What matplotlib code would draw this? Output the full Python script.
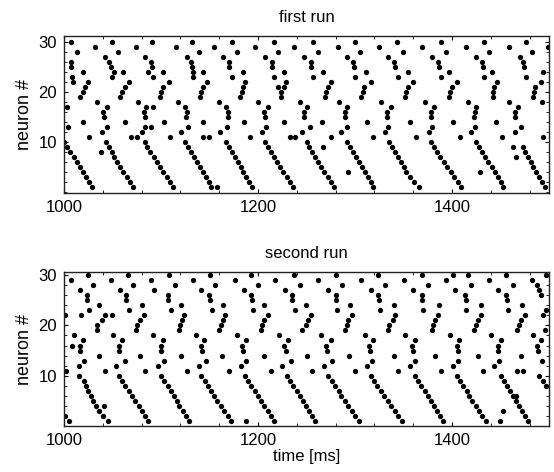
import matplotlib
matplotlib.use("Agg")
import matplotlib.pyplot as plt
from matplotlib.ticker import MultipleLocator

plt.rcParams['font.family'] = ['Liberation Sans', 'DejaVu Sans']

# ---- first run ----
# diagonal spike waves, neuron 10 down to 1, one row per wave
run1_wave_t = [
    [1000, 1003, 1006, 1010, 1013, 1016, 1020, 1023, 1026, 1029],
    [1043, 1046, 1049, 1052, 1055, 1058, 1061, 1065, 1068, 1071],
    [1083, 1086, 1089, 1093, 1096, 1099, 1102, 1106, 1109, 1112],
    [1125, 1128, 1131, 1134, 1137, 1140, 1143, 1146, 1149, 1152],
    [1167, 1170, 1173, 1176, 1179, 1182, 1185, 1188, 1191, 1194],
    [1207, 1210, 1213, 1217, 1220, 1223, 1226, 1230, 1233, 1236],
    [1250, 1253, 1256, 1259, 1262, 1265, 1268, 1272, 1275, 1278],
    [1292, 1295, 1298, 1301, 1304, 1307, 1310, 1313, 1316, 1319],
    [1335, 1338, 1341, 1344, 1347, 1350, 1353, 1357, 1361, 1366],
    [1378, 1381, 1385, 1388, 1392, 1395, 1399, 1402, 1406, 1409],
    [1425, 1428, 1431, 1434, 1437, 1441, 1444, 1447, 1450, 1453],
    [None, 1473, 1475, 1478, 1481, 1484, 1487, 1490, 1493, 1496],
]
wave_neurons = [10, 9, 8, 7, 6, 5, 4, 3, 2, 1]

run1_t = [
    1003, 1004, 1007, 1007, 1007, 1008, 1009, 1013, 1017, 1020, 1022, 1025, 1020, 1020, 1026, 1032,
    1038, 1034, 1039, 1040, 1041, 1044, 1044, 1042, 1046, 1048, 1050, 1049, 1052, 1056, 1061, 1063,
    1058, 1060, 1063, 1067, 1069, 1074, 1075,
    1076, 1080, 1083, 1082, 1083, 1085, 1092, 1084, 1090, 1091, 1091, 1087, 1092, 1090, 1103, 1099,
    1100, 1102, 1108, 1102, 1109, 1115,
    1118, 1121, 1125, 1127, 1126, 1128, 1127, 1132, 1131, 1132, 1133, 1133, 1139, 1143, 1140, 1141,
    1143, 1147, 1143, 1143, 1149, 1155, 1158,
    1160, 1161, 1164, 1169, 1169, 1167, 1168, 1170, 1170, 1173, 1173, 1178, 1185, 1181, 1183, 1185,
    1187, 1186, 1192, 1197,
    1200, 1204, 1206, 1207, 1210, 1208, 1207, 1214, 1214, 1216, 1216, 1221, 1227, 1224, 1224, 1221,
    1227, 1229, 1227, 1233, 1238, 1237,
    1245, 1243, 1247, 1247, 1251, 1254, 1247, 1255, 1255, 1257, 1257, 1262, 1267, 1269, 1270, 1272,
    1275, 1267, 1275, 1266, 1282, 1293,
    1283, 1286, 1290, 1290, 1292, 1292, 1292, 1298, 1299, 1300, 1300, 1305, 1306, 1308, 1309, 1317,
    1311, 1312, 1319, 1325,
    1327, 1331, 1333, 1333, 1337, 1334, 1334, 1340, 1341, 1343, 1344, 1349, 1355, 1352, 1353, 1355,
    1360, 1357, 1363, 1369,
    1372, 1376, 1378, 1378, 1381, 1379, 1379, 1386, 1387, 1389, 1389, 1394, 1397, 1398, 1400, 1405,
    1397, 1401, 1408, 1414,
    1417, 1420, 1424, 1423, 1425, 1424, 1425, 1431, 1432, 1433, 1433, 1438, 1442, 1442, 1443, 1446,
    1441, 1445, 1452, 1459, 1429,
    1459, 1465, 1465, 1465, 1468, 1471, 1470, 1473, 1474, 1476, 1476, 1482, 1484, 1485, 1486, 1492,
    1493, 1494, 1499, 1494, 1463, 1466,
]
run1_n = [
    17, 13, 30, 26, 25, 23, 22, 28, 19, 20, 21, 22, 24, 14, 11, 29,
    8, 18, 12, 16, 15, 17, 13, 27, 26, 25, 30, 23, 24, 28, 24, 14,
    19, 20, 21, 22, 11, 29, 11,
    18, 12, 13, 16, 15, 17, 17, 27, 26, 25, 30, 24, 23, 13, 14, 19,
    20, 21, 22, 24, 11, 29,
    18, 12, 17, 16, 15, 13, 27, 30, 26, 25, 24, 23, 28, 24, 19, 20,
    21, 22, 14, 11, 11, 29, 1,
    18, 12, 27, 16, 15, 17, 13, 26, 25, 30, 23, 28, 24, 19, 20, 21,
    22, 14, 11, 29,
    18, 12, 16, 15, 17, 13, 27, 26, 25, 30, 23, 28, 24, 19, 20, 21,
    21, 22, 14, 11, 11, 29,
    12, 18, 16, 15, 17, 13, 27, 26, 25, 30, 23, 28, 24, 19, 20, 21,
    22, 9, 11, 14, 29, 4,
    18, 12, 16, 15, 17, 13, 27, 26, 25, 30, 23, 28, 19, 20, 21, 22,
    24, 14, 11, 29,
    18, 12, 16, 15, 17, 13, 27, 26, 25, 30, 23, 28, 24, 19, 20, 21,
    22, 14, 11, 29,
    18, 12, 16, 15, 17, 13, 27, 26, 25, 30, 23, 28, 19, 20, 21, 22,
    24, 14, 11, 29,
    18, 12, 16, 15, 17, 13, 27, 26, 25, 30, 23, 28, 19, 20, 21, 22,
    24, 14, 11, 29, 4,
    18, 12, 16, 15, 17, 13, 27, 26, 25, 30, 23, 28, 19, 20, 21, 22,
    18, 11, 29, 24, 9, 7,
]

# ---- second run ----
run2_wave_t = [
    [1015, 1021, 1023, 1025, 1028, 1030, 1033, 1036, 1040, 1045],
    [1057, 1060, 1063, 1067, 1070, 1073, 1077, 1080, 1083, 1087],
    [1100, 1103, 1107, 1110, 1113, 1116, 1119, 1123, 1126, 1129],
    [1141, 1145, 1148, 1152, 1155, 1158, 1162, 1165, 1169, 1172],
    [1187, 1190, 1193, 1197, 1200, 1203, 1206, 1210, 1213, 1216],
    [1230, 1233, 1236, 1240, 1243, 1246, 1249, 1253, 1256, 1259],
    [1272, 1276, 1279, 1283, 1286, 1290, 1293, 1297, 1300, 1304],
    [1316, 1320, 1323, 1327, 1330, 1334, 1337, 1341, 1344, 1348],
    [1362, 1365, 1368, 1372, 1375, 1378, 1381, 1385, 1388, 1391],
    [1405, 1408, 1411, 1415, 1418, 1421, 1425, 1428, 1431, 1435],
    [1451, 1454, 1457, 1460, 1463, 1466, 1469, 1472, 1475, 1478],
    [1490, 1494, 1497, None, None, None, None, None, None, None],
]

run2_t = [
    1001, 1005, 1001, 1002, 1007, 1010, 1008, 1017, 1017, 1017, 1020, 1015, 1021, 1025, 1024, 1024,
    1026, 1030, 1036, 1034, 1034, 1039, 1042, 1049, 1036, 1042, 1048, 1018, 1041,
    1051, 1054, 1057, 1057, 1060, 1063, 1058, 1064, 1064, 1066, 1067, 1071, 1080, 1074, 1075, 1078,
    1082, 1078, 1083, 1090,
    1092, 1097, 1100, 1100, 1102, 1103, 1093, 1107, 1107, 1108, 1110, 1114, 1121, 1119, 1120, 1122,
    1124, 1121, 1127, 1133,
    1136, 1139, 1141, 1142, 1144, 1146, 1141, 1150, 1151, 1151, 1153, 1156, 1164, 1160, 1162, 1164,
    1166, 1163, 1170, 1176, 1188,
    1178, 1182, 1184, 1185, 1188, 1188, 1186, 1193, 1194, 1193, 1195, 1200, 1206, 1203, 1204, 1206,
    1210, 1206, 1213, 1218,
    1222, 1225, 1227, 1229, 1231, 1234, 1228, 1235, 1235, 1237, 1238, 1243, 1249, 1245, 1249, 1252,
    1255, 1251, 1256, 1262,
    1265, 1268, 1270, 1271, 1275, 1276, 1272, 1280, 1280, 1280, 1281, 1287, 1295, 1290, 1292, 1293,
    1297, 1294, 1300, 1306,
    1310, 1312, 1314, 1315, 1319, 1318, 1316, 1324, 1325, 1324, 1326, 1331, 1340, 1334, 1335, 1339,
    1341, 1340, 1344, 1351,
    1352, 1357, 1359, 1360, 1362, 1362, 1360, 1369, 1369, 1369, 1370, 1375, 1387, 1379, 1380, 1382,
    1386, 1382, 1389, 1394,
    1398, 1401, 1405, 1406, 1407, 1406, 1403, 1413, 1414, 1401, 1416, 1414, 1420, 1430, 1423, 1425,
    1427, 1430, 1427, 1432, 1438, 1449, 1453,
    1440, 1443, 1447, 1447, 1451, 1448, 1447, 1456, 1457, 1456, 1458, 1463, 1472, 1467, 1469, 1471,
    1475, 1471, 1467, 1473, 1482, 1466,
    1483, 1488, 1489, 1492, 1490, 1492, 1488, 1497, 1494, 1496, 1493, 1497,
]
run2_n = [
    22, 1, 2, 11, 29, 18, 16, 27, 16, 15, 17, 12, 13, 30, 26, 25,
    23, 28, 24, 19, 20, 21, 22, 22, 14, 11, 29, 22, 4,
    18, 12, 16, 15, 17, 13, 27, 26, 25, 30, 23, 28, 24, 19, 20, 21,
    22, 14, 11, 29,
    18, 12, 16, 15, 17, 13, 27, 26, 25, 30, 23, 28, 24, 19, 20, 21,
    22, 14, 11, 29,
    18, 12, 16, 15, 17, 13, 27, 26, 25, 30, 23, 28, 24, 19, 20, 21,
    22, 14, 11, 29, 1,
    18, 12, 16, 15, 17, 13, 27, 26, 25, 30, 23, 28, 24, 19, 20, 21,
    22, 14, 11, 29,
    18, 12, 16, 15, 17, 13, 27, 26, 25, 30, 23, 28, 24, 19, 20, 21,
    22, 14, 11, 29,
    18, 12, 16, 15, 17, 13, 27, 26, 25, 30, 23, 28, 24, 19, 20, 21,
    22, 14, 11, 29,
    18, 12, 16, 15, 17, 13, 27, 26, 25, 30, 23, 28, 24, 19, 20, 21,
    22, 14, 11, 29,
    18, 12, 16, 15, 17, 13, 27, 26, 25, 30, 23, 28, 24, 19, 20, 21,
    22, 14, 11, 29,
    18, 12, 16, 15, 17, 13, 27, 26, 25, 30, 30, 23, 28, 24, 19, 20,
    21, 22, 14, 11, 29, 1, 3,
    18, 12, 16, 15, 17, 13, 27, 26, 25, 30, 23, 28, 24, 19, 20, 21,
    22, 14, 11, 11, 29, 6,
    18, 16, 15, 17, 27, 26, 28, 30, 22, 19, 13, 23,
]


def collect(wave_t, extra_t, extra_n):
    ts, ns = list(extra_t), list(extra_n)
    for wave in wave_t:
        for t, n in zip(wave, wave_neurons):
            if t is not None:
                ts.append(t)
                ns.append(n)
    return ts, ns


def style_axis(ax, ylim):
    ax.set_xlim(1000, 1500)
    ax.set_ylim(*ylim)
    ax.set_xticks([1000, 1200, 1400])
    ax.set_yticks([10, 20, 30])
    ax.xaxis.set_minor_locator(MultipleLocator(40))
    ax.yaxis.set_minor_locator(MultipleLocator(2))
    ax.tick_params(which='both', direction='in', top=True, right=True, labelsize=12, pad=5)
    ax.tick_params(which='major', length=3)
    ax.tick_params(which='minor', length=2)
    ax.set_ylabel('neuron #', fontsize=13, labelpad=4)
    for sp in ax.spines.values():
        sp.set_linewidth(1.0)
        sp.set_color('#222222')


fig = plt.figure(figsize=(5.54, 4.72), dpi=100)
ax1 = fig.add_axes([0.1155, 0.591, 0.8755, 0.3326])
ax2 = fig.add_axes([0.1155, 0.0975, 0.8755, 0.326])

t1, n1 = collect(run1_wave_t, run1_t, run1_n)
t2, n2 = collect(run2_wave_t, run2_t, run2_n)

ax1.plot(t1, n1, 'o', color='black', markersize=3.8, markeredgewidth=0)
ax2.plot(t2, n2, 'o', color='black', markersize=3.8, markeredgewidth=0)

style_axis(ax1, (-0.3, 31.1))
style_axis(ax2, (0, 30.6))

ax1.set_title('first run', fontsize=12, pad=10)
ax2.set_title('second run', fontsize=12, pad=10)
ax2.set_xlabel('time [ms]', fontsize=12, labelpad=1)

fig.savefig('out.png', dpi=100)
